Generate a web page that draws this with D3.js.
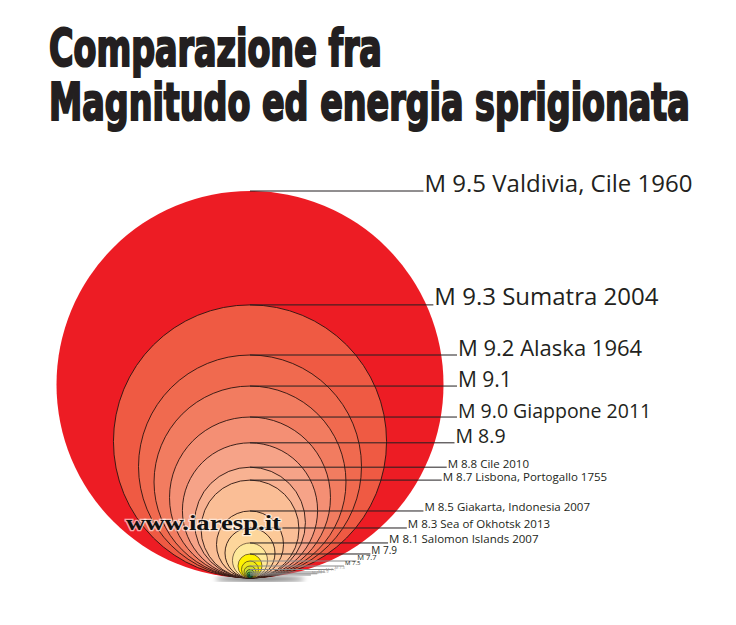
<!DOCTYPE html>
<html>
<head>
<meta charset="utf-8">
<script src="https://cdn.jsdelivr.net/npm/d3@7"></script>
<style>
  body { margin: 0; background: #fff; }
  svg { display: block; }
</style>
</head>
<body>
<svg id="chart" width="736" height="625"></svg>
<script>
// quakes, largest first
const magnitudes = [9.5, 9.3, 9.2, 9.1, 9.0, 8.9, 8.8, 8.7, 8.5, 8.3, 8.1, 7.9, 7.7, 7.5, 7.3, 7.1, 6.9, 6.7];
// released energy relative to M 9.5 = 100
const energyRel = [100, 49.8, 33.2, 24.6, 17.3, 12.2, 8.2, 6.4, 3.0, 1.67, 0.82, 0.385, 0.193, 0.096, 0.048, 0.024, 0.012, 0.006];
const labels = [
  "M 9.5 Valdivia, Cile 1960",
  "M 9.3 Sumatra 2004",
  "M 9.2 Alaska 1964",
  "M 9.1",
  "M 9.0 Giappone 2011",
  "M 8.9",
  "M 8.8 Cile 2010",
  "M 8.7 Lisbona, Portogallo 1755",
  "M 8.5 Giakarta, Indonesia 2007",
  "M 8.3 Sea of Okhotsk 2013",
  "M 8.1 Salomon Islands 2007",
  "M 7.9",
  "M 7.7",
  "M 7.5",
  "M 7.3",
  "M 7.1",
  "M 6.9",
  "M 6.7"
];
const fills = ["#ed1c24", "#ef5a43", "#f06a4f", "#f27c60", "#f48f74", "#f6a388", "#f8b292", "#fabe96",
               "#fcc998", "#fdd69b", "#fee99a", "#fff200", "#eee81c", "#cfdd2c", "#8dc63f", "#39b54a", "#00994a", "#00683a"];
const titleLines = ["Comparazione fra", "Magnitudo ed energia sprigionata"];
const watermark = "www.iaresp.it";

const svg = d3.select("#chart");
const cx = 250, baseY = 578, maxR = 193.5;

// circle area proportional to released energy
const r = d3.scaleSqrt()
  .domain([0, d3.max(energyRel)])
  .range([0, maxR]);

const quakes = magnitudes.map((m, i) => ({ m: m, e: energyRel[i], label: labels[i], fill: fills[i], r: r(energyRel[i]) }));

// title: condensed heavy type, squeezed horizontally to the reference widths
const titleWidths = [333, 641];
svg.selectAll("text.title")
  .data(titleLines)
  .join("text")
  .attr("class", "title")
  .style("font-family", "'Liberation Sans Narrow', 'DejaVu Sans Condensed', 'Liberation Sans', sans-serif")
  .style("font-weight", "bold")
  .style("font-size", "52px")
  .style("fill", "#231f20")
  .style("stroke", "#231f20")
  .style("stroke-width", 2.2)
  .text(d => d)
  .each(function(d, i) {
    const w = this.getComputedTextLength();
    const sx = titleWidths[i] / w;
    d3.select(this).attr("transform", `translate(49,${66 + i * 54}) scale(${sx},1)`);
  });

// soft shadow under the tangent point
const defs = svg.append("defs");
defs.append("filter").attr("id", "blur")
  .append("feGaussianBlur").attr("stdDeviation", 2.5);

svg.append("ellipse")
  .attr("cx", cx + 10)
  .attr("cy", baseY + 1)
  .attr("rx", 45)
  .attr("ry", 2.5)
  .style("fill", "#000")
  .style("opacity", 0.6)
  .attr("filter", "url(#blur)");

// nested circles, all tangent at the bottom
svg.append("g")
  .selectAll("circle")
  .data(quakes)
  .join("circle")
  .attr("cx", cx)
  .attr("cy", d => baseY - d.r)
  .attr("r", d => d.r)
  .style("fill", d => d.fill)
  .style("stroke", (d, i) => i === 0 ? "none" : "#2a1410")
  .style("stroke-width", d => d.r > 20 ? 0.9 : 0.6);

// label placement: right of the big circle at the height of each circle's top
const outerR = quakes[0].r;
const edgeX = (y) => {
  const dy = y - (baseY - outerR);
  return cx + Math.sqrt(Math.max(0, outerR * outerR - dy * dy));
};
const gap = d3.scaleLinear().domain([9.3, 9.2, 8.9, 8.5, 8.1]).range([8, 17, 21, 28, 28]).clamp(true);
const fontSize = (m) => m >= 9.3 ? 24 : m >= 9.2 ? 22 : m >= 9.1 ? 21 : m >= 8.9 ? 19.5 : m >= 8.1 ? 11.5 : m >= 7.9 ? 10 : m >= 7.7 ? 7.5 : m >= 7.5 ? 6 : 4;

quakes.forEach((d, i) => {
  d.y = baseY - 2 * d.r;
  d.lx = i === 0 ? cx + outerR - 19 : Math.min(458, edgeX(d.y) + gap(d.m));
});

const labelG = svg.append("g");

labelG.selectAll("line")
  .data(quakes)
  .join("line")
  .attr("x1", cx)
  .attr("x2", d => d.lx - 1)
  .attr("y1", d => d.y)
  .attr("y2", d => d.y)
  .style("stroke", d => d.m >= 7.9 ? "#231f20" : "#8a8a8a")
  .style("stroke-width", d => d.m >= 7.9 ? 1 : 1.2);

labelG.selectAll("text")
  .data(quakes)
  .join("text")
  .attr("x", d => d.lx)
  .attr("y", d => d.m >= 7.9 ? d.y + 0.5 : d.y - 1)
  .style("font-family", "'Open Sans', 'Noto Sans', sans-serif")
  .style("font-size", d => fontSize(d.m) + "px")
  .style("fill", d => d.m >= 7.5 ? "#231f20" : "#9a9a9a")
  .text(d => d.label);

// watermark
svg.append("text")
  .attr("x", 126)
  .attr("y", 530)
  .attr("textLength", 155)
  .attr("lengthAdjust", "spacingAndGlyphs")
  .style("font-family", "'Liberation Serif', 'DejaVu Serif', serif")
  .style("font-weight", "bold")
  .style("font-size", "22px")
  .style("fill", "#111")
  .style("stroke", "#fff")
  .style("stroke-width", 2.5)
  .style("stroke-opacity", 0.6)
  .style("paint-order", "stroke")
  .text(watermark);
</script>
</body>
</html>
